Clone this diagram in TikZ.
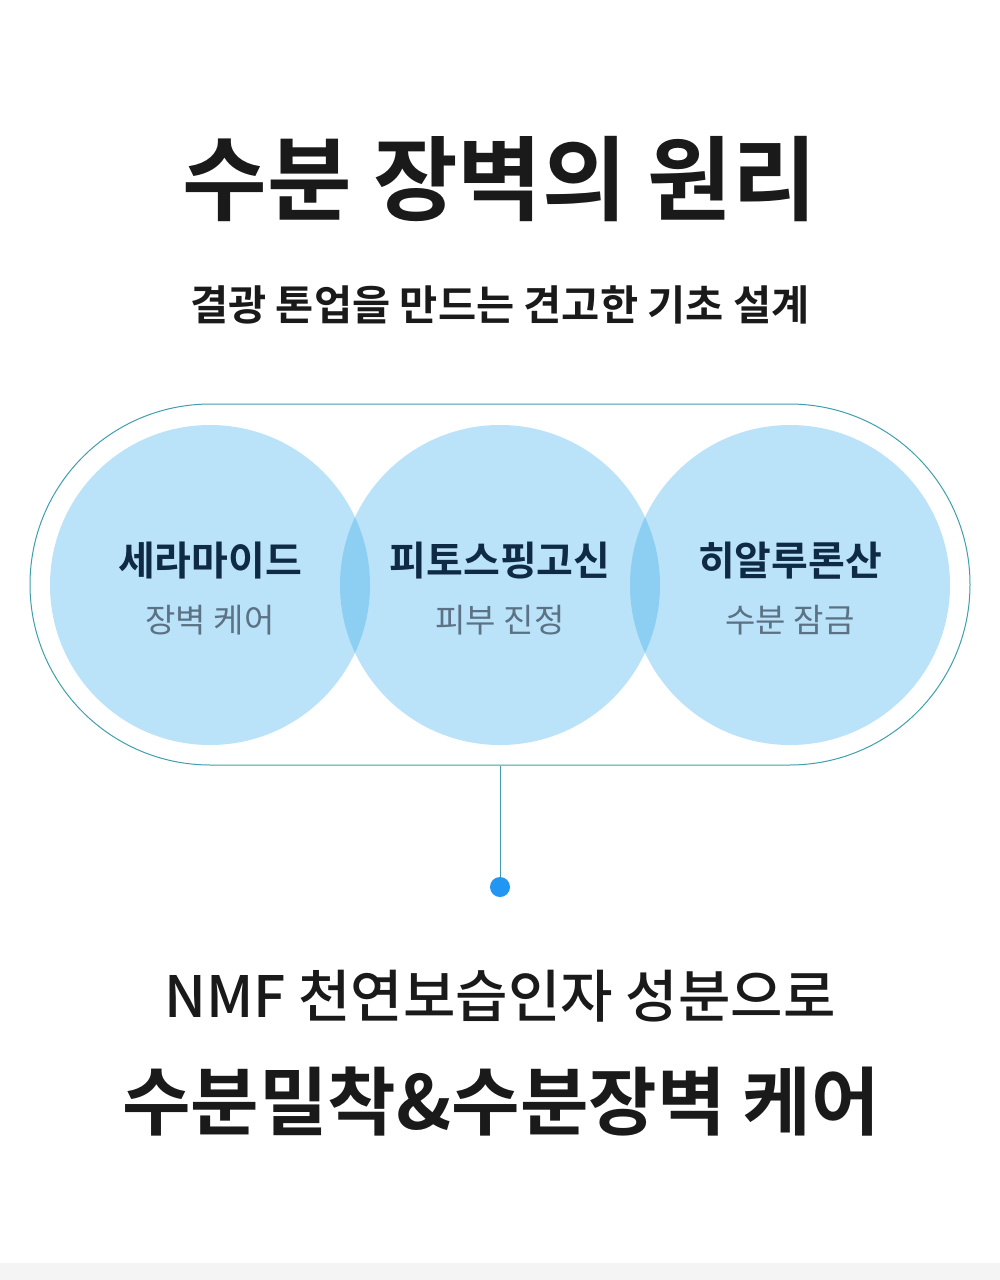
\documentclass[tikz,border=0pt]{standalone}
\usepackage{fontspec}
\setmainfont{Noto Sans CJK KR}
\newfontfamily\krreg{Noto Sans CJK KR}
\newfontfamily\krmed{Noto Sans CJK KR Medium}
\newfontfamily\krbold{Noto Sans CJK KR Bold}
\definecolor{titleink}{HTML}{1A1A1A}
\definecolor{navy}{HTML}{0F2A44}
\definecolor{subgray}{HTML}{5B7184}
\definecolor{bubble}{RGB}{55,170,235}
\definecolor{rim}{HTML}{3F9FAE}
\definecolor{dotblue}{HTML}{2196F3}
\definecolor{strip}{HTML}{F4F4F4}
\tikzset{
  bubblenode/.style={circle, minimum size=320pt, inner sep=0pt, fill=bubble, fill opacity=0.34},
  nametext/.style={anchor=base, inner sep=0pt, text=navy, font=\krbold\fontsize{40}{46}\selectfont},
  roletext/.style={anchor=base, inner sep=0pt, text=subgray, font=\krreg\fontsize{33}{38}\selectfont},
}
\begin{document}
\begin{tikzpicture}[x=1pt,y=-1pt]
\useasboundingbox (0,0) rectangle (1000,1280);
\fill[white] (0,0) rectangle (1000,1280);
\fill[strip] (0,1263) rectangle (1000,1280);
% titles
\node[anchor=base, inner sep=0pt, text=titleink, font=\krbold\fontsize{92}{104}\selectfont] (title) at (500,213) {수분 장벽의 원리};
\node[anchor=base, inner sep=0pt, text=titleink, font=\krbold\fontsize{41.5}{48}\selectfont] (subtitle) at (500,320) {결광 톤업을 만드는 견고한 기초 설계};
% pill outline
\node[draw=rim, line width=1pt, rounded corners=180.5pt, minimum width=940pt, minimum height=361pt, inner sep=0pt] (pill) at (500,584.5) {};
% bubbles
\node[bubblenode] (b1) at (210,585) {};
\node[bubblenode] (b2) at (500,585) {};
\node[bubblenode] (b3) at (790,585) {};
% labels
\node[nametext] (n1) at (210,575) {세라마이드};
\node[roletext] (r1) at (210,632) {장벽 케어};
\node[nametext] (n2) at (500,575) {피토스핑고신};
\node[roletext] (r2) at (500,632) {피부 진정};
\node[nametext] (n3) at (790,575) {히알루론산};
\node[roletext] (r3) at (790,632) {수분 잠금};
% connector
\node[circle, fill=dotblue, minimum size=20pt, inner sep=0pt] (dot) at (500,887) {};
\draw[rim, line width=1pt] (pill.south) -- (dot.north);
% bottom text
\node[anchor=base, inner sep=0pt, text=titleink, font=\krmed\fontsize{57}{64}\selectfont] (nmf) at (500,1017) {NMF 천연보습인자 성분으로};
\node[anchor=base, inner sep=0pt, text=titleink, font=\krbold\fontsize{74.5}{84}\selectfont] (care) at (501,1129) {수분밀착\&수분장벽 케어};
\end{tikzpicture}
\end{document}
